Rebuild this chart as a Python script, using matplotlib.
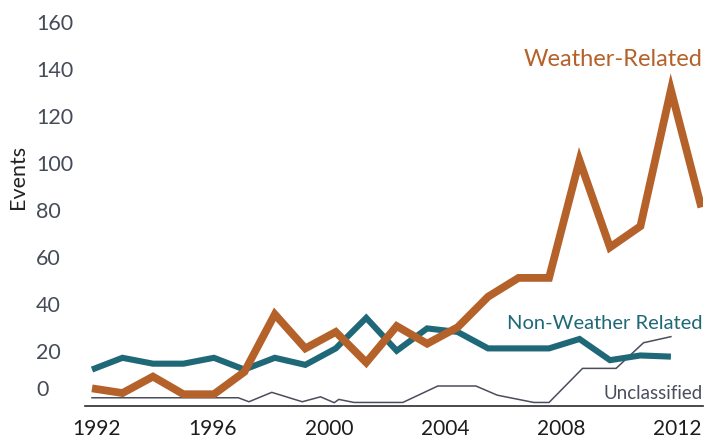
import numpy as np
import matplotlib
matplotlib.use("Agg")
import matplotlib.pyplot as plt
import matplotlib.transforms as mtransforms

plt.rcParams['font.family'] = ['Lato', 'DejaVu Sans']

# annual event counts
years = list(range(1992, 2013))
weather = [4, 2, 9, 1.5, 1.5, 11, 35.5, 21, 28, 15, 30.5, 23, 30, 43, 51, 51, 101, 64, 73, 131, 81]
non_weather = [12, 17, 14.5, 14.5, 17, 12, 17, 14, 21, 34, 20, 29.5, 28, 21, 21, 21, 25, 16, 18, 17.5]
non_weather_years = years[:len(non_weather)]

# unclassified series is reported at irregular points in time
unclass_years = [1992, 1996.8, 1997.15, 1997.9, 1998.9, 1999.5, 1999.95, 2000.1, 2000.6,
                 2002.2, 2003.35, 2004.6, 2005.3, 2006.5, 2007.0, 2008.1, 2009.2, 2010.1, 2011.0]
unclassified = [0, 0, -1.7, 2.3, -1.7, 0.4, -2.1, -0.7, -2, -2, 5, 5, 1.1, -2, -2,
                12.5, 12.5, 23.4, 26]

tick_years = [1992, 1996, 2000, 2004, 2008, 2012]
y_ticks = [0, 20, 40, 60, 80, 100, 120, 140, 160]

c_weather = '#b5612a'
c_non = '#1f6878'
c_unc = '#4a4e5c'

fig = plt.figure(figsize=(7.21, 4.41), dpi=100)
ax = fig.add_axes([0.1179, 0.0794, 0.857, 0.898])

ax.plot(unclass_years, unclassified, color=c_unc, lw=1.1, solid_joinstyle='miter')
ax.plot(non_weather_years, non_weather, color=c_non, lw=4.4,
        solid_joinstyle='miter', solid_capstyle='butt')
ax.plot(years, weather, color=c_weather, lw=5.6,
        solid_joinstyle='miter', solid_capstyle='butt')

ax.set_xlim(1991.77, 2012.05)
ax.set_ylim(-3.5, 165)

for s in ['top', 'right', 'left']:
    ax.spines[s].set_visible(False)
ax.spines['bottom'].set_color('#2b2b2b')
ax.spines['bottom'].set_linewidth(1.2)

# year labels run on a slightly tighter spacing than the data points
tick_pos = np.linspace(1992.16, 2011.2, len(tick_years))
ax.set_xticks(tick_pos, [str(y) for y in tick_years])
ax.tick_params(axis='x', length=0, pad=9.5, labelsize=15, labelcolor='#1c1c1c')

ax.set_yticks(y_ticks, [str(v) for v in y_ticks])
ax.tick_params(axis='y', length=0, pad=35.3, labelsize=15.5, labelcolor='#454b57')
for lab in ax.get_yticklabels():
    lab.set_horizontalalignment('left')
# the zero label sits a little above its gridline
zero_lab = ax.get_yticklabels()[0]
zero_lab.set_transform(zero_lab.get_transform() +
                       mtransforms.ScaledTranslation(0, 0.095, fig.dpi_scale_trans))

ax.set_ylabel('Events', fontsize=15.5, color='#222222')
ax.yaxis.set_label_coords(-0.092, 0.578)

# series labels, right-aligned to the end of the axis
lbl_tr = mtransforms.blended_transform_factory(ax.transAxes, ax.transData)
ax.text(1.0, 141, 'Weather-Related', transform=lbl_tr, ha='right', va='baseline',
        fontsize=17, color=c_weather)
ax.text(1.0, 29.2, 'Non-Weather Related', transform=lbl_tr, ha='right', va='baseline',
        fontsize=14.5, color=c_non)
ax.text(1.0, -0.7, 'Unclassified', transform=lbl_tr, ha='right', va='baseline',
        fontsize=13.5, color=c_unc)

fig.savefig('out.png', dpi=100)
